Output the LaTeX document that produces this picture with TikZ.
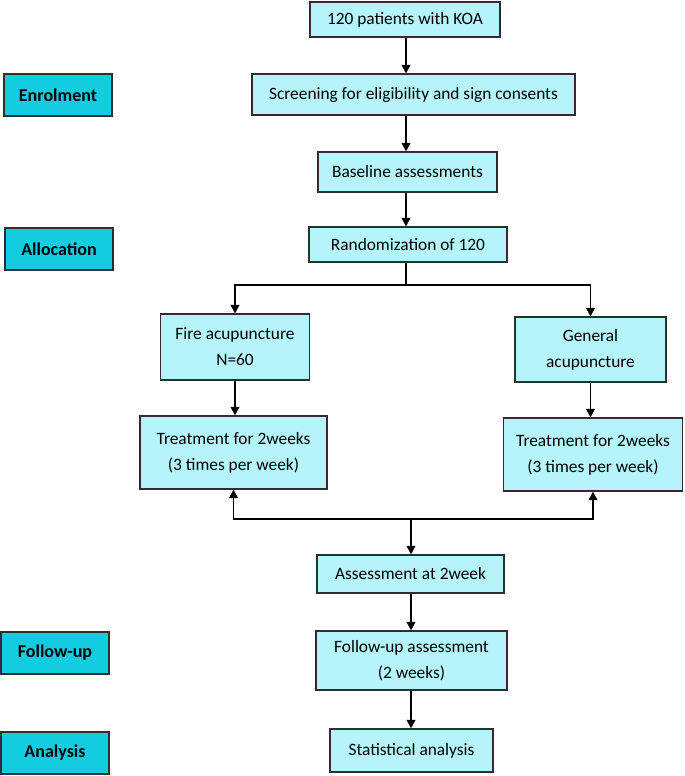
\documentclass[tikz,border=0pt]{standalone}
\usepackage{fontspec}
\setsansfont{Carlito}
\usepackage{tikz}
\usetikzlibrary{arrows.meta, positioning, calc}
\definecolor{stagecyan}{HTML}{12CCE0}
\definecolor{proccyan}{HTML}{B5F4FA}
\definecolor{edgegray}{HTML}{2E2E2E}
\tikzset{
  box_size/.style 2 args={minimum width=#1*0.75pt, minimum height=#2*0.75pt},
  proc_box/.style={rectangle, draw=edgegray, fill=proccyan, line width=0.8pt, align=center, inner sep=2pt, font=\sffamily\fontsize{13}{19.5}\selectfont},
  stage_label/.style={rectangle, draw=edgegray, fill=stagecyan, line width=0.9pt, box_size={108}{42}, font=\sffamily\bfseries\fontsize{13.5}{15}\selectfont},
  arrow/.style={-{Triangle[length=6.5pt, width=6.5pt]}, line width=1.4pt, black},
  connect/.style={-, line width=1.4pt, black}
}

\begin{document}
\begin{tikzpicture}[x=0.75pt, y=-0.75pt]

  % --- Page frame ---
  \useasboundingbox (0,0) rectangle (685,776);

  % --- Stage labels (left column) ---
  \node[stage_label] (enrol)    at (58, 95)  {Enrolment};
  \node[stage_label] (alloc)    at (59, 249) {Allocation};
  \node[stage_label] (followup) at (55, 653) {Follow-up};
  \node[stage_label] (analysis) at (55, 753) {Analysis};

  % --- Main column ---
  \node[proc_box, box_size={190}{35}] (patients) at (405, 19.5)   {120 patients with KOA};
  \node[proc_box, box_size={323}{41}] (screen)   at (413.5, 94.5) {Screening for eligibility and sign consents};
  \node[proc_box, box_size={179}{40}] (baseline) at (407.5, 172)  {Baseline assessments};
  \node[proc_box, box_size={198}{35}] (random)   at (408, 244.5)  {Randomization of 120};

  % --- Two arms ---
  \node[proc_box, box_size={149}{66}] (fire)    at (235, 347)     {Fire acupuncture\\N=60};
  \node[proc_box, box_size={151}{65}] (general) at (590.5, 349.5) {General\\acupuncture};
  \node[proc_box, box_size={187}{73}] (treatL)  at (233.5, 452.5) {Treatment for 2weeks\\(3 times per week)};
  \node[proc_box, box_size={179}{73}] (treatR)  at (593, 454.5)   {Treatment for 2weeks\\(3 times per week)};

  % --- Outcome column ---
  \node[proc_box, box_size={187}{38}] (assess) at (410.5, 574)   {Assessment at 2week};
  \node[proc_box, box_size={191}{59}] (follow) at (411.5, 660.5) {Follow-up assessment\\(2 weeks)};
  \node[proc_box, box_size={163}{43}] (stats)  at (411.5, 750.5) {Statistical analysis};

  % --- Branch points ---
  \coordinate (split) at (406, 285);
  \coordinate (join)  at (411, 519);

  % --- Connectors ---
  \draw[arrow] (patients.south -| split) -- (screen.north -| split);
  \draw[arrow] (screen.south -| split) -- (baseline.north -| split);
  \draw[arrow] (baseline.south -| split) -- (random.north -| split);
  \draw[connect] (random.south -| split) -- (split);
  \draw[arrow] (split) -| (fire.north);
  \draw[arrow] (split) -| (general.north);
  \draw[arrow] (fire.south) -- (fire.south |- treatL.north);
  \draw[arrow] (general.south) -- (general.south |- treatR.north);
  \draw[arrow] (join) -| (treatL.south);
  \draw[arrow] (join) -| (treatR.south);
  \draw[arrow] (join) -- (join |- assess.north);
  \draw[arrow] (assess.south -| join) -- (follow.north -| join);
  \draw[arrow] (follow.south -| join) -- (stats.north -| join);

\end{tikzpicture}
\end{document}
